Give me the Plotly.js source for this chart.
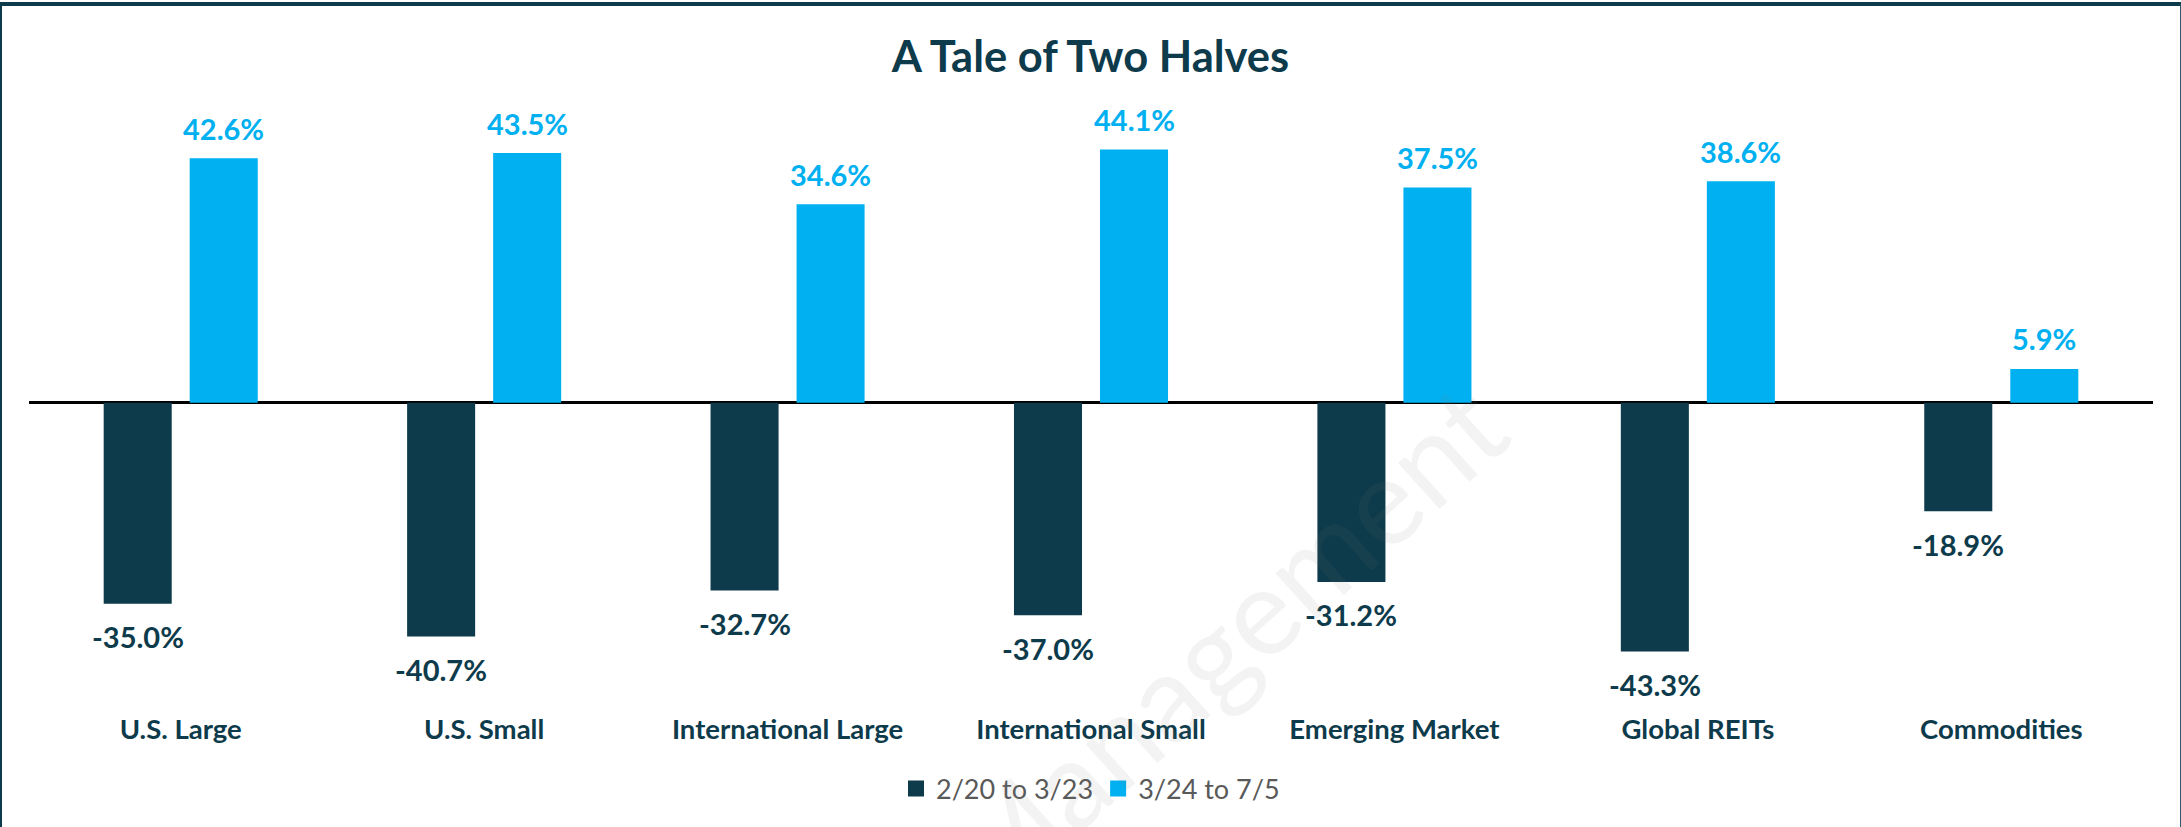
<!DOCTYPE html>
<html>
<head>
<meta charset="utf-8">
<script src="https://cdn.plot.ly/plotly-3.0.1.min.js"></script>
<style>
  html, body { margin: 0; padding: 0; background: #ffffff; }
  #wrap { position: relative; width: 2181px; height: 827px; overflow: hidden; }
  #chart { position: absolute; left: 0; top: 0; width: 2181px; height: 827px; }
  #frame { position: absolute; left: 0; top: 2px; width: 2181px; height: 830px; box-sizing: border-box;
           border-top: 4px solid #0e3b4b; border-left: 2px solid #0e3b4b; border-right: 1px solid #2a5a6a;
           pointer-events: none; }
</style>
</head>
<body>
<div id="wrap">
  <div id="chart"></div>
  <div id="frame"></div>
</div>
<script>
// ---- data ----
const categories = ["U.S. Large", "U.S. Small", "International Large", "International Small",
                    "Emerging Market", "Global REITs", "Commodities"];
const seriesNames = ["2/20 to 3/23", "3/24 to 7/5"];
const firstHalf = [-35.0, -40.7, -32.7, -37.0, -31.2, -43.3, -18.9];
const secondHalf = [42.6, 43.5, 34.6, 44.1, 37.5, 38.6, 5.9];

// ---- style ----
const DARK = "#0e3b4b";
const LIGHT = "#00b0f0";
const FONT = "Lato, 'Noto Sans', sans-serif";

const traces = [
  { type: "bar", name: seriesNames[0], x: categories, y: firstHalf,
    marker: { color: DARK }, hoverinfo: "skip", showlegend: false },
  { type: "bar", name: seriesNames[1], x: categories, y: secondHalf,
    marker: { color: LIGHT }, hoverinfo: "skip", showlegend: false },
  // legend entries (square swatches)
  { type: "scatter", mode: "markers", name: seriesNames[0], x: [categories[0]], y: [null],
    marker: { symbol: "square", size: 16, color: DARK }, hoverinfo: "skip", showlegend: true },
  { type: "scatter", mode: "markers", name: seriesNames[1], x: [categories[0]], y: [null],
    marker: { symbol: "square", size: 16, color: LIGHT }, hoverinfo: "skip", showlegend: true }
];

const fmt = v => v.toFixed(1) + "%";
const annotations = [];
categories.forEach((c, i) => {
  annotations.push({ x: c, y: firstHalf[i], xref: "x", yref: "y", text: fmt(firstHalf[i]),
    showarrow: false, xshift: -43, yshift: -33, yanchor: "middle",
    font: { family: FONT, size: 29, color: DARK, weight: 700 } });
  annotations.push({ x: c, y: secondHalf[i], xref: "x", yref: "y", text: fmt(secondHalf[i]),
    showarrow: false, xshift: 43, yshift: 30, yanchor: "middle",
    font: { family: FONT, size: 29, color: LIGHT, weight: 700 } });
});
// faint watermark
annotations.push({ x: 0.562, y: 0.115, xref: "paper", yref: "paper", xanchor: "center", yanchor: "middle",
  text: "Management", showarrow: false, textangle: -42,
  font: { family: FONT, size: 122, color: "rgba(120,120,120,0.09)" } });

const layout = {
  width: 2181, height: 827,
  paper_bgcolor: "#ffffff", plot_bgcolor: "#ffffff",
  margin: { l: 29, r: 28, t: 110, b: 117 },
  title: { text: "A Tale of Two Halves", x: 0.5, xref: "container", xanchor: "center",
           y: 1 - 57 / 827, yref: "container", yanchor: "middle",
           font: { family: FONT, size: 43.5, color: DARK, weight: 700 } },
  barmode: "group", bargap: 0.433, bargroupgap: 0.209,
  xaxis: { type: "category", showgrid: false, showline: false, ticks: "", zeroline: false,
           tickfont: { family: FONT, size: 27.5, color: DARK, weight: 700 } },
  yaxis: { range: [-53.5, 51.0], showgrid: false, showticklabels: false, ticks: "",
           zeroline: true, zerolinecolor: "#000000", zerolinewidth: 3, showline: false },
  showlegend: true,
  legend: { orientation: "h", x: 0.5, xref: "container", xanchor: "center",
            y: 1 - 789 / 827, yref: "container", yanchor: "middle",
            font: { family: FONT, size: 27, color: "#595959" }, itemclick: false },
  annotations: annotations
};

Plotly.newPlot("chart", traces, layout, { staticPlot: true, displayModeBar: false });
</script>
</body>
</html>
